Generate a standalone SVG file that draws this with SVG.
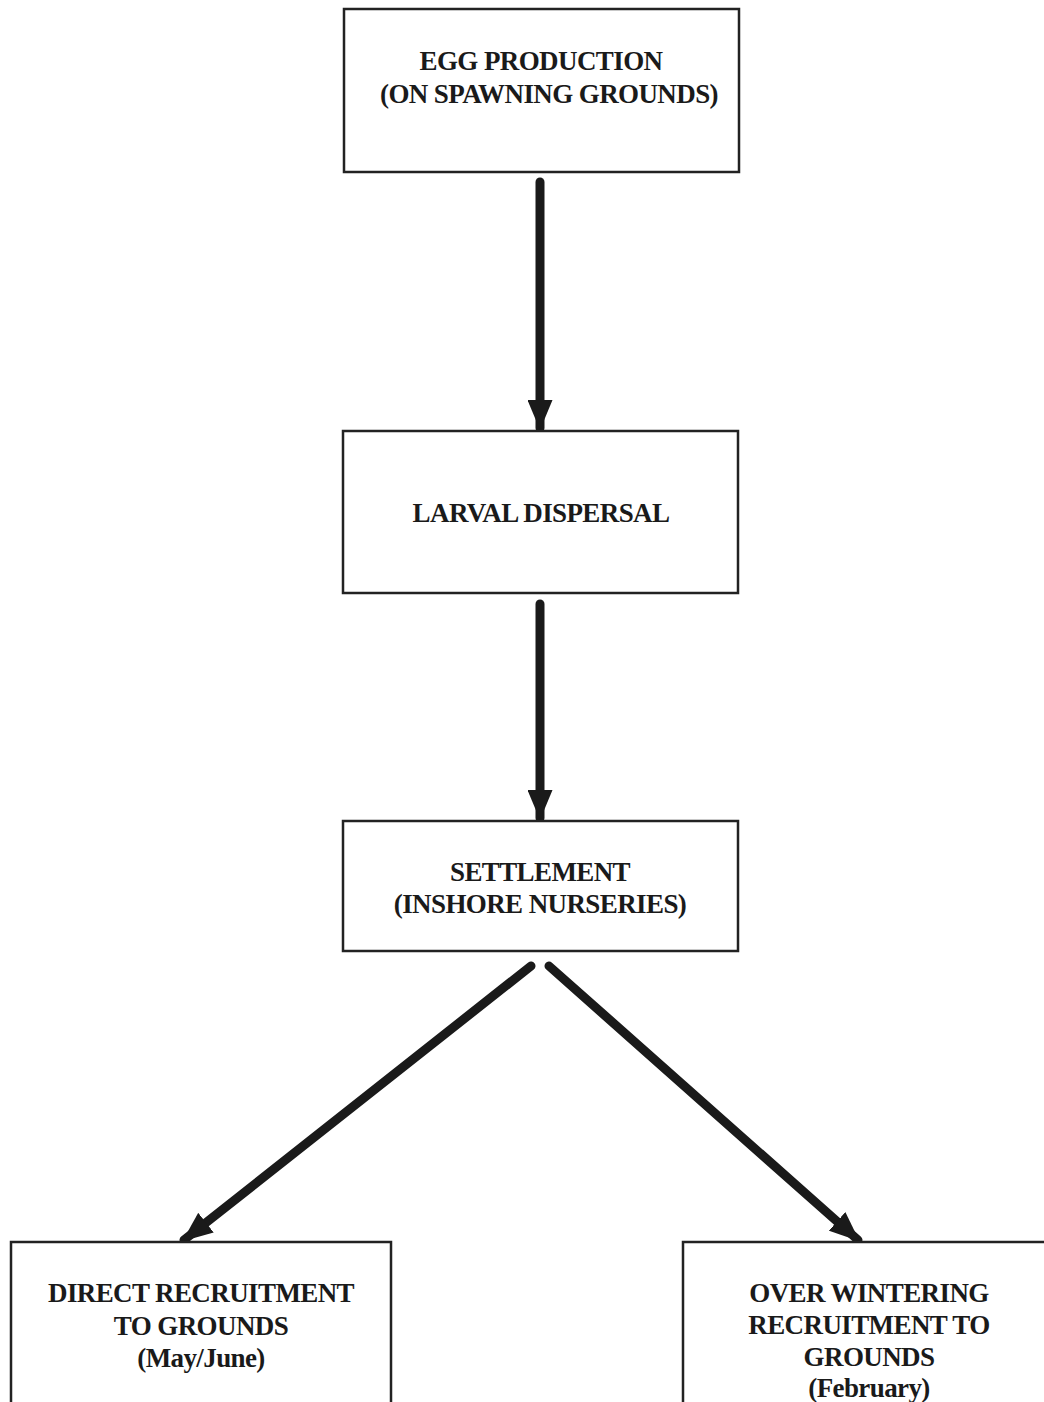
<svg xmlns="http://www.w3.org/2000/svg" width="1044" height="1402" viewBox="0 0 1044 1402">
<style>
.box{fill:#fff;stroke:#222;stroke-width:2.5}
.t{font-family:"Liberation Serif","Times New Roman",serif;font-weight:bold;font-size:27px;fill:#1a1a1a;text-anchor:middle;letter-spacing:-0.6px}
.c{stroke:#1a1a1a;stroke-width:9;fill:none;stroke-linecap:round}
</style>
<defs>
<marker id="ah" viewBox="0 0 30 25" refX="28" refY="12.5" markerWidth="30" markerHeight="25" orient="auto" markerUnits="userSpaceOnUse">
<path d="M0,0 L30,12.5 L0,25 z" fill="#1a1a1a"/>
</marker>
</defs>
<rect width="1044" height="1402" fill="#fff"/>
<g id="connectors">
<line class="c" x1="540" y1="182" x2="540" y2="428" marker-end="url(#ah)"/>
<line class="c" x1="540" y1="604" x2="540" y2="818" marker-end="url(#ah)"/>
<line class="c" x1="531" y1="966" x2="184" y2="1240" marker-end="url(#ah)"/>
<line class="c" x1="549" y1="966" x2="858" y2="1240" marker-end="url(#ah)"/>
</g>
<g id="egg">
<rect class="box" x="344" y="9" width="395" height="163"/>
<text class="t" x="541" y="70">EGG PRODUCTION</text>
<text class="t" x="549" y="103">(ON SPAWNING GROUNDS)</text>
</g>
<g id="larval">
<rect class="box" x="343" y="431" width="395" height="162"/>
<text class="t" x="541" y="522">LARVAL DISPERSAL</text>
</g>
<g id="settlement">
<rect class="box" x="343" y="821" width="395" height="130"/>
<text class="t" x="540" y="881">SETTLEMENT</text>
<text class="t" x="540" y="913">(INSHORE NURSERIES)</text>
</g>
<g id="direct">
<rect class="box" x="11" y="1242" width="380" height="170"/>
<text class="t" x="201" y="1302">DIRECT RECRUITMENT</text>
<text class="t" x="201" y="1335">TO GROUNDS</text>
<text class="t" x="201" y="1367">(May/June)</text>
</g>
<g id="overwinter">
<rect class="box" x="683" y="1242" width="380" height="170"/>
<text class="t" x="869" y="1302">OVER WINTERING</text>
<text class="t" x="869" y="1334">RECRUITMENT TO</text>
<text class="t" x="869" y="1366">GROUNDS</text>
<text class="t" x="869" y="1397">(February)</text>
</g>
</svg>
